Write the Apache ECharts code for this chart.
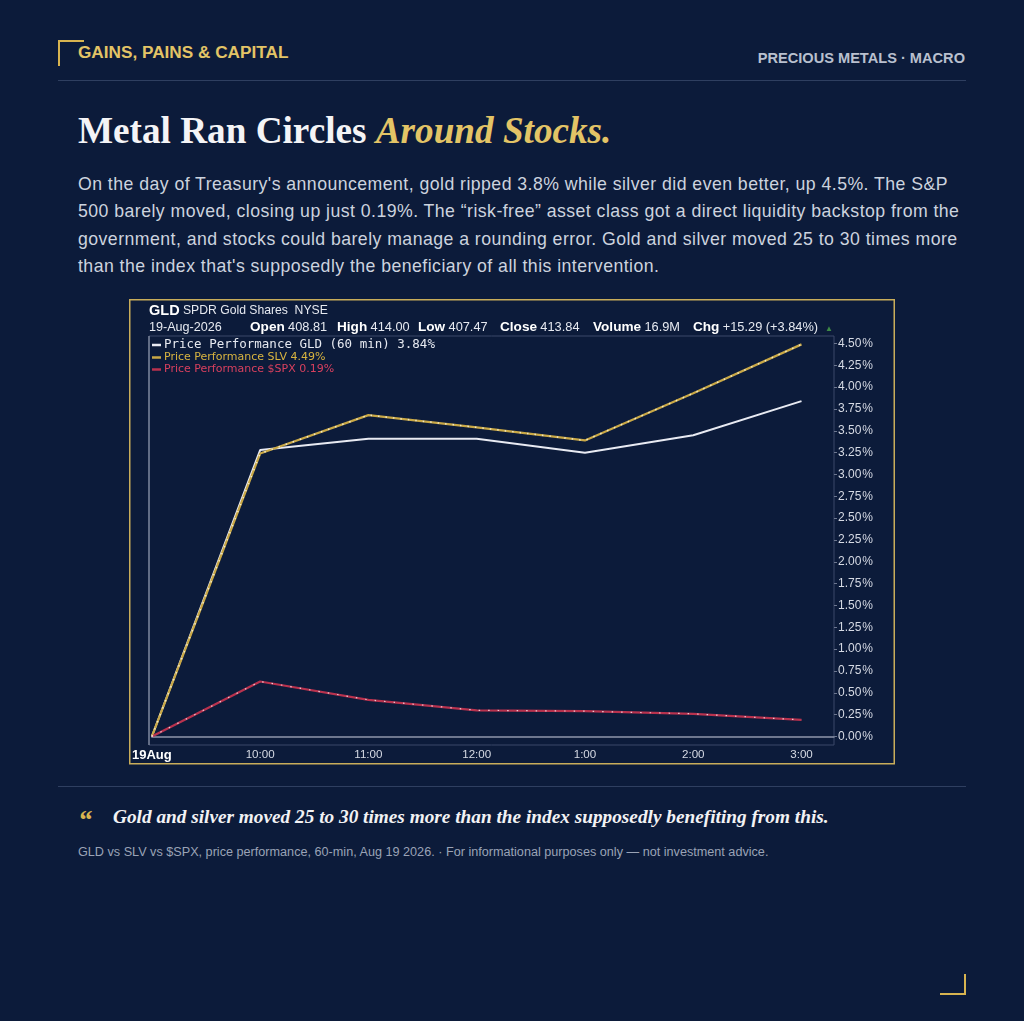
<!DOCTYPE html>
<html>
<head>
<meta charset="utf-8">
<script src="https://cdn.jsdelivr.net/npm/echarts@6/dist/echarts.min.js"></script>
<style>
html,body{margin:0;padding:0;background:#0c1b3a;}
body{width:1024px;height:1021px;position:relative;overflow:hidden;font-family:"Liberation Sans",Arial,sans-serif;}
.abs{position:absolute;}
#brand{left:78px;top:42px;color:#e3c466;font-weight:bold;font-size:17.2px;}
#cat{right:59px;top:50px;color:#b9c0cf;font-weight:bold;font-size:14.6px;}
.hr{position:absolute;left:58px;width:908px;height:1px;background:#2f3f60;}
#title{left:78px;top:109px;font-family:"Liberation Serif","Times New Roman",serif;font-weight:bold;font-size:37.2px;color:#f4f4f6;}
#title i{color:#e3c466;}
#para{left:78px;top:171px;width:895px;font-size:17.7px;letter-spacing:0.45px;line-height:27.4px;color:#ccd3df;}
#qm{left:78px;top:804px;font-family:"Liberation Serif",serif;font-weight:bold;font-size:28px;color:#d8b450;font-style:italic;}
#quote{left:113px;top:806px;font-family:"Liberation Serif",serif;font-weight:bold;font-style:italic;font-size:19.3px;color:#f2f2f4;}
#cap{left:78px;top:845px;font-size:12.65px;color:#9aa3b6;}
#chart{left:129px;top:299px;width:767px;height:467px;}
</style>
</head>
<body>
<div class="abs" style="left:58px;top:40px;width:26px;height:2px;background:#d8b450;"></div>
<div class="abs" style="left:58px;top:40px;width:2px;height:26px;background:#d8b450;"></div>
<div class="abs" style="left:940px;top:993px;width:26px;height:2px;background:#d8b450;"></div>
<div class="abs" style="left:964px;top:974px;width:2px;height:21px;background:#d8b450;"></div>
<div id="brand" class="abs">GAINS, PAINS &amp; CAPITAL</div>
<div id="cat" class="abs">PRECIOUS METALS · MACRO</div>
<div class="hr" style="top:80px;"></div>
<div id="title" class="abs">Metal Ran Circles <i>Around Stocks.</i></div>
<div id="para" class="abs">On the day of Treasury's announcement, gold ripped 3.8% while silver did even better, up 4.5%. The S&amp;P 500 barely moved, closing up just 0.19%. The “risk-free” asset class got a direct liquidity backstop from the government, and stocks could barely manage a rounding error. Gold and silver moved 25 to 30 times more than the index that's supposedly the beneficiary of all this intervention.</div>
<div id="chart" class="abs"></div>
<div class="hr" style="top:786px;"></div>
<div id="qm" class="abs">“</div>
<div id="quote" class="abs">Gold and silver moved 25 to 30 times more than the index supposedly benefiting from this.</div>
<div id="cap" class="abs">GLD vs SLV vs $SPX, price performance, 60-min, Aug 19 2026. · For informational purposes only — not investment advice.</div>
<script>
// ---- data ----
const timeLabels = ["19Aug","10:00","11:00","12:00","1:00","2:00","3:00"];
const gldValues = [0, 3.28, 3.41, 3.41, 3.25, 3.45, 3.84];
const slvValues = [0, 3.24, 3.68, 3.54, 3.39, 3.93, 4.49];
const spxValues = [0, 0.63, 0.42, 0.30, 0.29, 0.26, 0.19];
const seriesNames = ["Price Performance GLD (60 min) 3.84%","Price Performance SLV 4.49%","Price Performance $SPX 0.19%"];
const quoteKeys = ["Open","High","Low","Close","Volume","Chg"];
const quoteVals = ["408.81","414.00","407.47","413.84","16.9M","+15.29 (+3.84%)"];

const toXY = arr => arr.map((v,i)=>[i,v]);
const chart = echarts.init(document.getElementById('chart'), null, {renderer:'canvas'});
const W = 767, H = 467;
const boxL = 20, boxT = 37, boxR = 705, boxB = 446;
const keyX = [121, 208, 289, 371, 464, 564];
const hdr = quoteKeys.map((k,i)=>({type:'text', left:keyX[i], top:21,
  style:{text:'{k|'+k+'} {n|'+quoteVals[i]+'}', rich:{n:{fontFamily:'Liberation Sans', fontSize:12.8, fill:'#e6e9f0'}, k:{fontFamily:'Liberation Sans', fontWeight:'bold', fontSize:13.6, fill:'#ffffff'}}}}));
chart.setOption({
  backgroundColor:'transparent',
  animation:false,
  grid:{left:21, right:W-boxR, top:44.5, bottom:H-437.5, show:false},
  xAxis:{type:'value', min:0, max:6.3, interval:1,
    axisLine:{show:true, onZero:false, lineStyle:{color:'#8e97ab', width:1.5}},
    axisTick:{show:false}, splitLine:{show:false},
    axisLabel:{margin:12, showMaxLabel:false, fontFamily:'Liberation Sans', fontSize:11.6, color:'#d6dae4',
      formatter:v=>{const i=Math.round(v); return i===0?'{b|'+timeLabels[0]+'}':(timeLabels[i]||'');},
      rich:{b:{fontWeight:'bold', color:'#ffffff', fontSize:13, fontFamily:'Liberation Sans'}}}
  },
  yAxis:{type:'value', position:'right', min:0, max:4.5, interval:0.25,
    axisLine:{show:false, onZero:false}, axisTick:{show:true, length:3, lineStyle:{color:'#6d7790'}}, splitLine:{show:false},
    axisLabel:{margin:4, fontFamily:'Liberation Sans', fontSize:12, color:'#d6dae4', formatter:v=>v.toFixed(2)+'\u200a%'}
  },
  legend:{orient:'vertical', left:18, top:34.5, itemGap:0, itemWidth:9, itemHeight:2.5, icon:'rect',
    textStyle:{fontFamily:'DejaVu Sans', fontSize:11, lineHeight:12, padding:[0,0,0,-2]},
    data:[{name:seriesNames[0], textStyle:{color:'#e6e9f0', fontFamily:'DejaVu Sans Mono', fontSize:12.5}},
          {name:seriesNames[1], textStyle:{color:'#d8b440'}},
          {name:seriesNames[2], textStyle:{color:'#d8405e'}}]
  },
  graphic:[
    {type:'rect', shape:{x:0.75,y:0.75,width:W-2.5,height:H-3}, style:{fill:null, stroke:'#c9ad5a', lineWidth:1.5}, silent:true},
    {type:'rect', shape:{x:boxL,y:boxT,width:boxR-boxL,height:boxB-boxT}, style:{fill:null, stroke:'#3a4868', lineWidth:1}, silent:true},
    {type:'line', shape:{x1:boxL,y1:boxT,x2:boxL,y2:boxB}, style:{stroke:'#8e97ab', lineWidth:1.2}, silent:true},
    {type:'text', left:20, top:4, style:{text:'{a|GLD} {b|SPDR Gold Shares}  {b|NYSE}', rich:{a:{fontFamily:'Liberation Sans', fontWeight:'bold', fontSize:14.5, fill:'#ffffff'}, b:{fontFamily:'Liberation Sans', fontSize:12.2, fill:'#e6e9f0'}}}},
    {type:'text', left:20, top:22, style:{text:'19-Aug-2026', fontFamily:'Liberation Sans', fontSize:12.6, fill:'#e6e9f0'}},
    ...hdr,
    {type:'text', left:696, top:26, style:{text:'▲', fontSize:8, fill:'#3e8a46'}}
  ],
  series:[
    {name:seriesNames[0], type:'line', data:toXY(gldValues), symbol:'none', color:'#e8eaf2', lineStyle:{width:2, color:'#e8eaf2'}, z:3},
    {name:seriesNames[1], type:'line', data:toXY(slvValues), symbol:'none', color:'#c9a846', lineStyle:{width:2.2, color:'#c9a846'}, z:4},
    {name:'slvTex', type:'line', data:toXY(slvValues), symbol:'none', lineStyle:{width:1.5, color:'#f2e8c4', type:[1.5,6]}, z:5, silent:true},
    {name:seriesNames[2], type:'line', data:toXY(spxValues), symbol:'none', color:'#b8324e', lineStyle:{width:2.2, color:'#b8324e'}, z:4},
    {name:'spxTex', type:'line', data:toXY(spxValues), symbol:'none', lineStyle:{width:1.2, color:'#f0c8d2', type:[1.5,8]}, z:5, silent:true}
  ]
});
</script>
</body>
</html>
